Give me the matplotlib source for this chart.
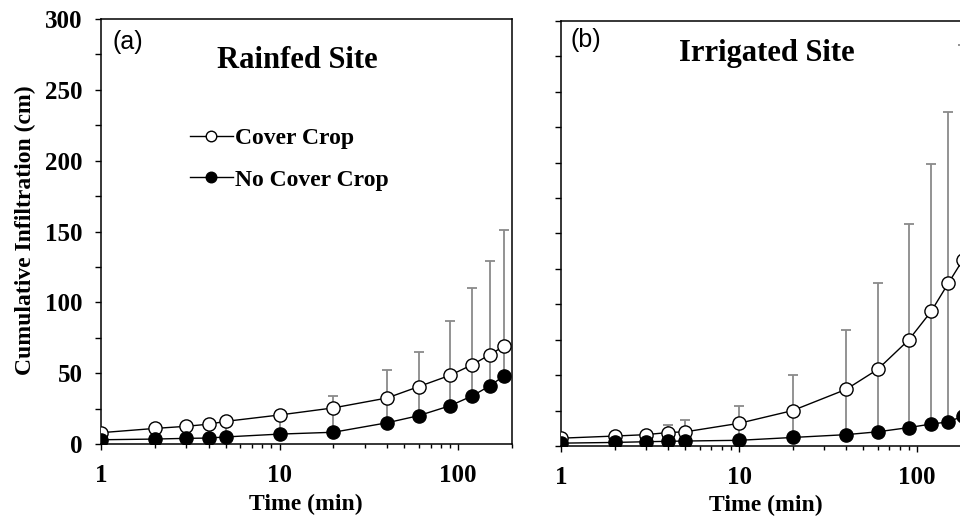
# Cumulative infiltration plotter, rainfed vs irrigated site
import numpy as np
import matplotlib
matplotlib.use("Agg")
import matplotlib.pyplot as plt
from matplotlib.ticker import MultipleLocator, LogLocator, NullFormatter

# Plot style configuration
plt.rcParams["font.family"] = ["Liberation Serif", "DejaVu Serif"]
plt.rcParams["font.weight"] = "bold"

# Data
time_min = [1, 2, 3, 4, 5, 10, 20, 40, 60, 90, 120, 150, 180]

# Rainfed site
rain_cover = [8, 11, 12.5, 14, 16, 20.5, 25.5, 32.5, 40.5, 48.5, 56, 63, 69]
rain_cover_top = [8, 11, 12.5, 14, 16, 23, 34, 52, 65, 87, 110, 129, 151]
rain_nocover = [3, 3.5, 4, 4.2, 5, 7, 8.3, 15, 20, 27, 34, 41, 48]

# Irrigated site
irr_cover = [5.5, 7, 8, 9.5, 10, 16, 25, 40, 54, 75, 95, 115, 131]
irr_cover_top = [5.5, 7, 9, 15, 18, 28, 50, 82, 115, 157, 199, 236, 283]
irr_nocover = [2, 2.5, 3, 3.3, 3.5, 4, 6, 8, 10, 13, 15.5, 17, 21]

site_names = ["Rainfed Site", "Irrigated Site"]
panel_tags = ["(a)", "(b)"]
legend_labels = ["Cover Crop", "No Cover Crop"]


def panel_plotter(ax, cover, cover_top, nocover, show_labels):
    x = np.array(time_min)
    cover = np.array(cover)
    cover_top = np.array(cover_top)
    nocover = np.array(nocover)

    # Gray error bars, from the no cover mean up to the cover crop top
    ax.errorbar(
        x, cover, yerr=[cover - nocover, cover_top - cover],
        fmt="none", ecolor="#8a8a8a", elinewidth=1.3, capsize=3.6,
        capthick=1.3, zorder=1,
    )
    # Series
    ax.plot(x, cover, "-o", color="black", lw=1.0, ms=9.5, mfc="white",
            mec="black", mew=1.0, zorder=3, label=legend_labels[0])
    ax.plot(x, nocover, "-o", color="black", lw=1.0, ms=9.5, mfc="black",
            mec="black", mew=1.0, zorder=4, label=legend_labels[1])

    # Axes
    ax.set_xscale("log")
    ax.set_xlim(1, 200)
    ax.set_ylim(0, 300)
    ax.yaxis.set_major_locator(MultipleLocator(50))
    ax.yaxis.set_minor_locator(MultipleLocator(25))
    ax.xaxis.set_minor_locator(LogLocator(base=10, subs=np.arange(2, 10)))
    ax.xaxis.set_minor_formatter(NullFormatter())
    ax.set_xticks([1, 10, 100])
    ax.set_xticklabels(["1", "10", "100"])
    ax.tick_params(axis="both", which="major", direction="out", length=4.5,
                   width=1.0, labelsize=18)
    ax.tick_params(axis="both", which="minor", direction="out", length=4.5,
                   width=1.0)
    ax.tick_params(axis="x", which="major", pad=10)
    ax.tick_params(axis="y", which="major", pad=8.5)
    ax.tick_params(axis="x", which="minor", length=2.8)
    ax.tick_params(top=False, right=False, which="both")
    if not show_labels:
        ax.tick_params(axis="y", which="both", labelleft=False)
    for s in ax.spines.values():
        s.set_linewidth(1.1)


fig = plt.figure(figsize=(9.6, 5.16), dpi=100)
ax_a = fig.add_axes([0.1052, 0.1395, 0.4281, 0.8236])
ax_b = fig.add_axes([0.5844, 0.1357, 0.4267, 0.8236])

panel_plotter(ax_a, rain_cover, rain_cover_top, rain_nocover, True)
panel_plotter(ax_b, irr_cover, irr_cover_top, irr_nocover, False)

# Panel tags and site titles
ax_a.text(0.027, 0.947, panel_tags[0], transform=ax_a.transAxes, fontsize=18,
          fontweight="normal", family="Liberation Sans", va="center")
ax_b.text(0.022, 0.955, panel_tags[1], transform=ax_b.transAxes, fontsize=18,
          fontweight="normal", family="Liberation Sans", va="center")
ax_a.text(0.477, 0.885, site_names[0], transform=ax_a.transAxes, fontsize=22,
          fontweight="bold", ha="center", va="baseline")
ax_b.text(0.502, 0.906, site_names[1], transform=ax_b.transAxes, fontsize=22,
          fontweight="bold", ha="center", va="baseline")

# Legend
ax_a.legend(loc="upper left", bbox_to_anchor=(0.2165, 0.745), frameon=False,
            handlelength=1.82, handletextpad=0.1, markerscale=0.8,
            labelspacing=0.85, borderpad=0, borderaxespad=0,
            prop={"weight": "bold", "size": 17})

# Axis labels
fig.text(306 / 960, 1 - 504 / 516, "Time (min)", fontsize=17,
         fontweight="bold", ha="center", va="center")
fig.text(766 / 960, 1 - 505 / 516, "Time (min)", fontsize=17,
         fontweight="bold", ha="center", va="center")
fig.text(0.026, 1 - 230 / 516, "Cumulative Infiltration (cm)", rotation=90,
         fontsize=17, fontweight="bold", ha="center", va="center")

fig.savefig("out.png", dpi=100)
